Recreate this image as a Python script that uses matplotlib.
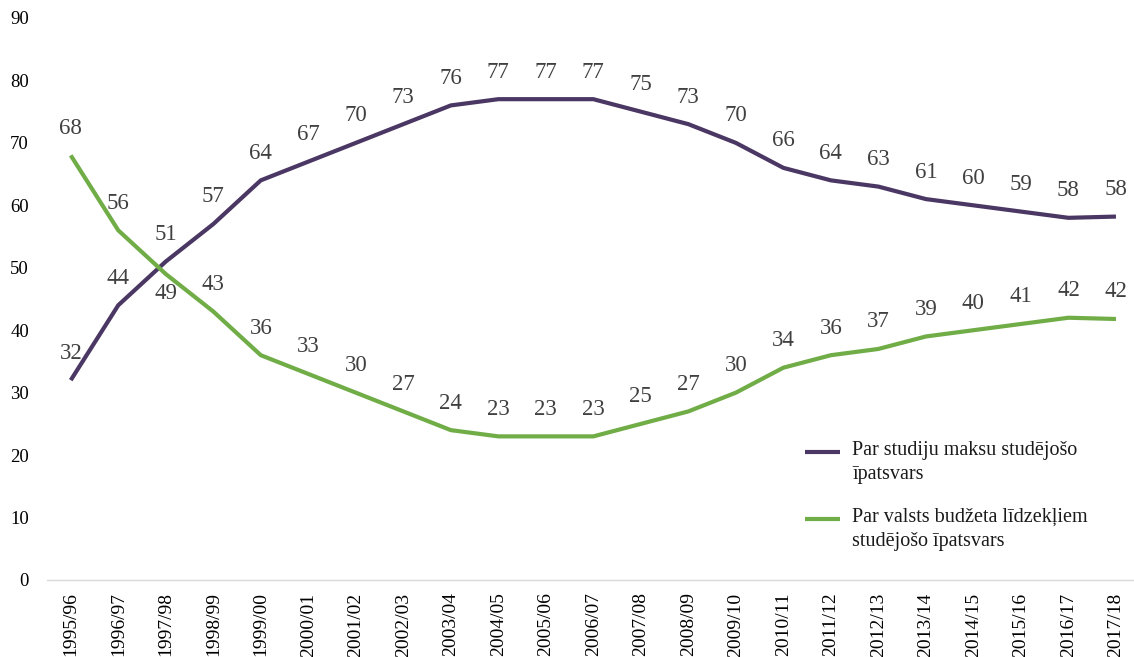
import matplotlib
matplotlib.use("Agg")
import matplotlib.pyplot as plt

categories = ["1995/96", "1996/97", "1997/98", "1998/99", "1999/00", "2000/01",
              "2001/02", "2002/03", "2003/04", "2004/05", "2005/06", "2006/07",
              "2007/08", "2008/09", "2009/10", "2010/11", "2011/12", "2012/13",
              "2013/14", "2014/15", "2015/16", "2016/17", "2017/18"]
paid = [32, 44, 51, 57, 64, 67, 70, 73, 76, 77, 77, 77, 75, 73, 70, 66, 64, 63,
        61, 60, 59, 58, 58.2]
budget = [68, 56, 49, 43, 36, 33, 30, 27, 24, 23, 23, 23, 25, 27, 30, 34, 36, 37,
          39, 40, 41, 42, 41.8]
paid_label = "Par studiju maksu studējošo\nīpatsvars"
budget_label = "Par valsts budžeta līdzekļiem\nstudējošo īpatsvars"
yticks = list(range(0, 91, 10))

PURPLE = "#4b3763"
GREEN = "#70ad47"
FONT = ["Liberation Serif", "DejaVu Serif"]
plt.rcParams["font.family"] = FONT

W, H = 1134, 657
fig = plt.figure(figsize=(W / 100, H / 100), dpi=100)
ax = fig.add_axes([47 / W, 1 - 580 / H, (1134 - 47) / W, (580 - 18) / H])

x = list(range(len(categories)))
ax.plot(x, paid, color=PURPLE, lw=3, solid_capstyle="butt", solid_joinstyle="round")
ax.plot(x, budget, color=GREEN, lw=3, solid_capstyle="butt", solid_joinstyle="round")

for i, v in enumerate(paid):
    ax.annotate(f"{round(v)}", (i, v), xytext=(0, 19.5), textcoords="offset points",
                ha="center", va="center", fontsize=16.5, color="#404040")
for i, v in enumerate(budget):
    dy = -14 if i == 2 else 19.5
    ax.annotate(f"{round(v)}", (i, v), xytext=(0, dy), textcoords="offset points",
                ha="center", va="center", fontsize=16.5, color="#404040")

ax.set_xlim(-0.5, 22.38)
ax.set_ylim(0, 90)
ax.set_yticks(yticks)
ax.set_xticks(x)
ax.set_xticklabels(categories, rotation=90, fontsize=14)
ax.tick_params(axis="y", length=0, pad=13, labelsize=13.5)
ax.tick_params(axis="x", length=0, pad=9)
for s in ["left", "right", "top"]:
    ax.spines[s].set_visible(False)
ax.spines["bottom"].set_color("#d9d9d9")
ax.spines["bottom"].set_linewidth(1)

# legend (manual, handle aligned with first text line)
def px(xp, yp):
    return (xp - 47) / (1134 - 47), (580 - yp) / (580 - 18)

for (yline, col, lab) in [(452, PURPLE, paid_label), (519, GREEN, budget_label)]:
    x0, y0 = px(805, yline)
    x1, _ = px(840, yline)
    ax.plot([x0, x1], [y0, y0], color=col, lw=3, transform=ax.transAxes,
            clip_on=False, solid_capstyle="butt")
    tx, ty = px(852, yline - 11)
    ax.text(tx, ty, lab, transform=ax.transAxes, ha="left", va="top",
            fontsize=14.5, color="#1a1a1a", linespacing=1.38)

fig.savefig("out.png", dpi=100)
